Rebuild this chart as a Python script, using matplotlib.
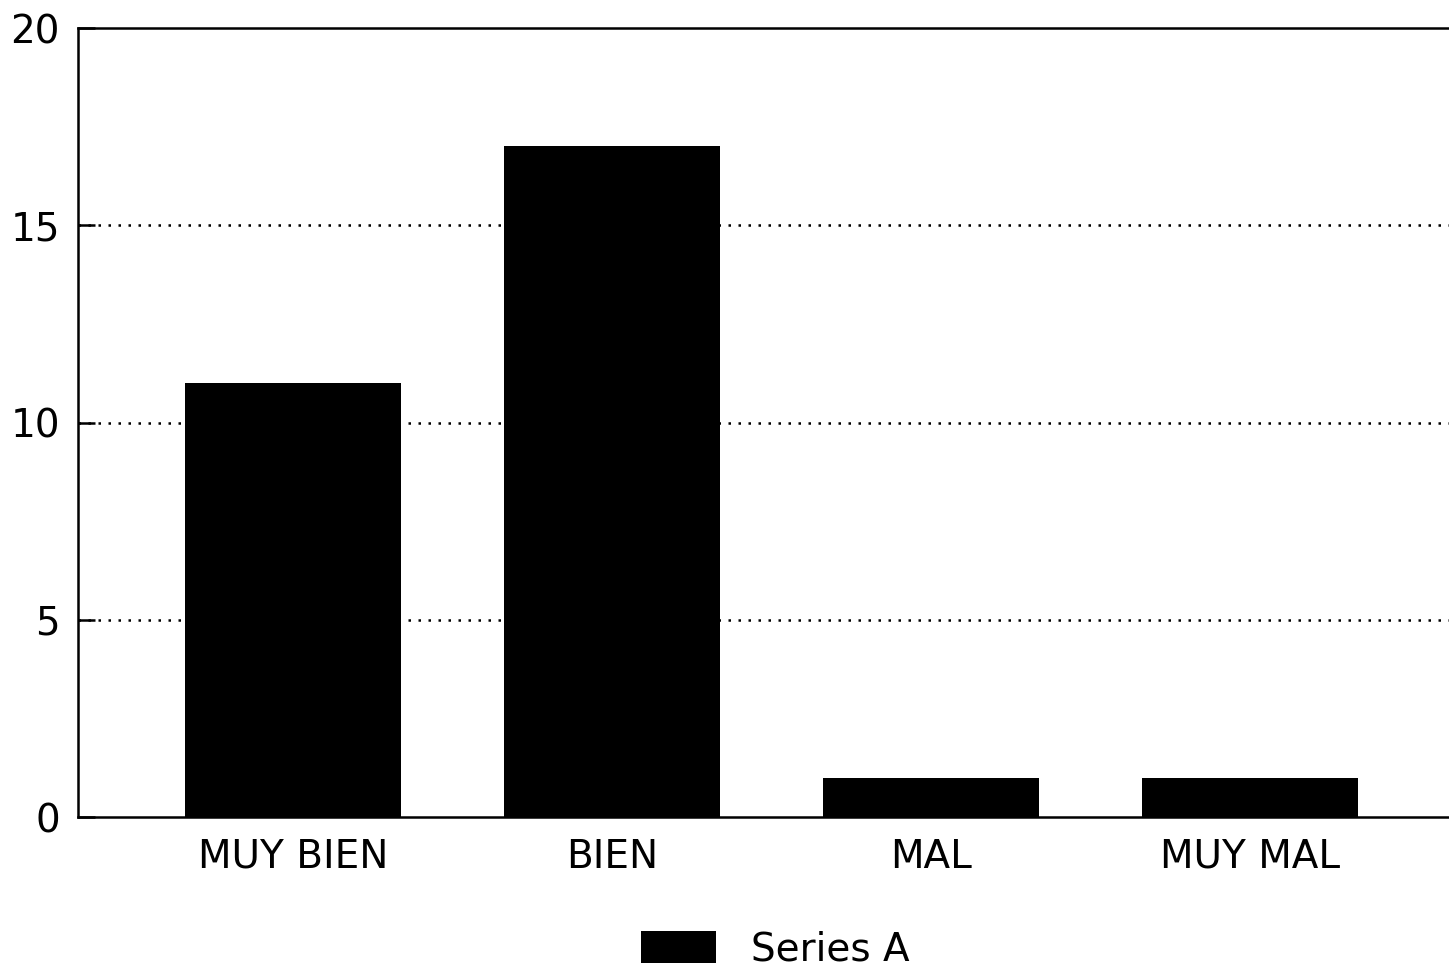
import matplotlib.pyplot as plt
from matplotlib.patches import Patch

categorias = ['MUY BIEN', 'BIEN', 'MAL', 'MUY MAL']
valores = [11, 17, 1, 1]
ticks_y = [0, 5, 10, 15, 20]

plt.rcParams['font.family'] = ['DejaVu Sans']

fig = plt.figure(figsize=(14.49, 9.76), dpi=100)
ax = fig.add_axes([0.0538, 0.1629, 0.9462, 0.8084])

x = range(len(categorias))
ax.bar(x, valores, width=0.675, color='black', zorder=3)

ax.set_xlim(-0.674, 3.624)
ax.set_ylim(0, 20)
ax.set_yticks(ticks_y)
ax.set_xticks(list(x))
ax.set_xticklabels(categorias)
ax.tick_params(axis='both', labelsize=28)
ax.tick_params(axis='y', direction='in', length=12, width=1.8, pad=13)
ax.tick_params(axis='x', length=0, pad=15)

for v in [5, 10, 15]:
    ax.axhline(v, color='black', linestyle=(0, (1, 3)), linewidth=1.8, zorder=1)

for s in ['left', 'bottom', 'top']:
    ax.spines[s].set_linewidth(1.8)
ax.spines['right'].set_visible(False)

fig.legend(handles=[Patch(facecolor='black', label='Series A')],
           loc='center', bbox_to_anchor=(0.535, 0.027), frameon=False,
           fontsize=28, handlelength=1.93, handleheight=0.9, handletextpad=0.9)

fig.savefig('out.png', dpi=100)
